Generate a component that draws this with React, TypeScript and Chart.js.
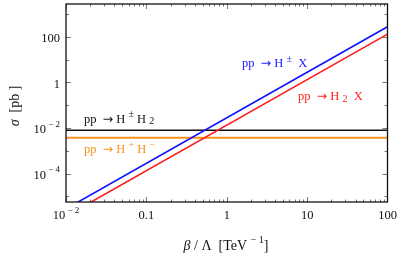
import React, { useEffect, useRef } from "react";
import { Chart, registerables } from "chart.js";
Chart.register(...registerables);

// Axis ranges (log-log)
const xMin = 0.01;
const xMax = 100;
const yMin = 5.6e-6;
const yMax = 2800;

// Series (β/Λ in TeV^-1, σ in pb)
const xEnds = [0.01, 100];
const blueValues = [2.8e-6, 280]; // pp → H± X
const redValues = [1.33e-6, 133]; // pp → H2 X
const blackValues = [0.0079, 0.0079]; // pp → H± H2
const orangeValues = [0.00375, 0.00375]; // pp → H+ H−

// Tick labels: [base, superscript]
const xTickValues = [0.01, 0.1, 1, 10, 100];
const xTickLabels = [["10", "− 2"], ["0.1", ""], ["1", ""], ["10", ""], ["100", ""]];
const yTickValues = [100, 1, 0.01, 0.0001];
const yTickLabels = [["100", ""], ["1", ""], ["10", "− 2"], ["10", "− 4"]];

const SERIF = '"Liberation Serif", "Times New Roman", serif';
const SANS = '"DejaVu Sans", sans-serif';

type Seg = { t: string; sup?: boolean; sub?: boolean; italic?: boolean; sans?: boolean };

function drawRich(
  ctx: CanvasRenderingContext2D,
  segs: Seg[],
  x: number,
  y: number,
  align: "left" | "right" | "center",
  size: number,
  supSize: number,
  rise: number,
  color: string
) {
  const fontFor = (s: Seg) =>
    `${s.italic ? "italic " : ""}${s.sup || s.sub ? supSize : size}px ${s.sans ? SANS : SERIF}`;
  const widths = segs.map((s) => {
    ctx.font = fontFor(s);
    return ctx.measureText(s.t).width;
  });
  const total = widths.reduce((a, b) => a + b, 0);
  let sx = align === "left" ? x : align === "right" ? x - total : x - total / 2;
  ctx.fillStyle = color;
  ctx.textAlign = "left";
  ctx.textBaseline = "middle";
  segs.forEach((s, i) => {
    ctx.font = fontFor(s);
    ctx.fillText(s.t, sx, s.sup ? y - rise : s.sub ? y + 2 : y);
    sx += widths[i];
  });
}

const framePlugin = {
  id: "frameDecor",
  afterDatasetsDraw(chart: any) {
    const ctx: CanvasRenderingContext2D = chart.ctx;
    const { left, right, top, bottom } = chart.chartArea;
    const xs = chart.scales.x;
    const ys = chart.scales.y;
    ctx.save();
    // ticks
    ctx.strokeStyle = "#777";
    ctx.lineWidth = 1;
    ctx.beginPath();
    for (let e = -2; e <= 1; e++) {
      for (let m = 1; m <= 9; m++) {
        const v = m * Math.pow(10, e);
        const px = Math.round(xs.getPixelForValue(v)) + 0.5;
        const len = m === 1 ? 5 : 2.5;
        ctx.moveTo(px, bottom);
        ctx.lineTo(px, bottom - len);
        ctx.moveTo(px, top);
        ctx.lineTo(px, top + len);
      }
    }
    for (let e = -5; e <= 3; e++) {
      const v = Math.pow(10, e);
      const py = Math.round(ys.getPixelForValue(v)) + 0.5;
      const len = e % 2 === 0 ? 5 : 3;
      ctx.moveTo(left, py);
      ctx.lineTo(left + len, py);
      ctx.moveTo(right, py);
      ctx.lineTo(right - len, py);
    }
    ctx.stroke();
    // frame
    ctx.strokeStyle = "#111";
    ctx.lineWidth = 1.3;
    ctx.strokeRect(left, top, right - left, bottom - top);

    // tick labels
    xTickValues.forEach((v, i) => {
      const [b, s] = xTickLabels[i];
      const segs: Seg[] = [{ t: b }];
      if (s) segs.push({ t: " " + s, sup: true });
      drawRich(ctx, segs, xs.getPixelForValue(v), 216, "center", 12.5, 9, 5.5, "#111");
    });
    yTickValues.forEach((v, i) => {
      const [b, s] = yTickLabels[i];
      const segs: Seg[] = [{ t: b }];
      if (s) segs.push({ t: " " + s, sup: true });
      drawRich(ctx, segs, 60, ys.getPixelForValue(v) + 2, "right", 12.5, 9, 5.5, "#111");
    });

    // axis titles
    drawRich(
      ctx,
      [{ t: "β", italic: true }, { t: " / Λ  [TeV " }, { t: "− 1", sup: true }, { t: "]" }],
      226,
      246,
      "center",
      14,
      10,
      6,
      "#111"
    );
    ctx.save();
    ctx.translate(15, 106);
    ctx.rotate(-Math.PI / 2);
    drawRich(ctx, [{ t: "σ", italic: true }, { t: "  [pb ]" }], 0, 0, "center", 14, 10, 6, "#111");
    ctx.restore();

    // series labels
    const arrow: Seg = { t: "→", sans: true };
    drawRich(ctx, [{ t: "pp  " }, arrow, { t: " H " }, { t: "±", sup: true }, { t: "  X" }], 242, 64, "left", 12.5, 10, 5, "#1a1aff");
    drawRich(ctx, [{ t: "pp  " }, arrow, { t: " H " }, { t: "2", sub: true }, { t: "  X" }], 298, 97, "left", 12.5, 10, 5, "#ff2020");
    drawRich(ctx, [{ t: "pp  " }, arrow, { t: " H " }, { t: "±", sup: true }, { t: " H " }, { t: "2", sub: true }], 84, 119.5, "left", 12.5, 10, 5, "#111");
    drawRich(ctx, [{ t: "pp  " }, arrow, { t: " H " }, { t: "+", sup: true }, { t: " H " }, { t: "−", sup: true }], 84, 150, "left", 12.5, 10, 5, "#f7941d");
    ctx.restore();
  },
};

function pts(vals: number[]) {
  return xEnds.map((x, i) => ({ x, y: vals[i] }));
}

export default function App() {
  const ref = useRef<HTMLCanvasElement | null>(null);
  useEffect(() => {
    if (!ref.current) return;
    const chart = new Chart(ref.current, {
      type: "line",
      data: {
        datasets: [
          { data: pts(blueValues), borderColor: "#1010ff", borderWidth: 1.6, pointRadius: 0 },
          { data: pts(redValues), borderColor: "#ff1a1a", borderWidth: 1.6, pointRadius: 0 },
          { data: pts(blackValues), borderColor: "#111", borderWidth: 1.5, pointRadius: 0 },
          { data: pts(orangeValues), borderColor: "#f7941d", borderWidth: 2, pointRadius: 0 },
        ],
      },
      options: {
        animation: false,
        responsive: false,
        events: [],
        layout: { padding: { left: 66, right: 13.5, top: 4, bottom: 57 } },
        plugins: { legend: { display: false }, tooltip: { enabled: false } },
        scales: {
          x: { type: "logarithmic", min: xMin, max: xMax, display: false },
          y: { type: "logarithmic", min: yMin, max: yMax, display: false },
        },
      },
      plugins: [framePlugin],
    });
    return () => chart.destroy();
  }, []);
  return (
    <div style={{ position: "fixed", left: 0, top: 0, width: 401, height: 259, background: "#fff" }}>
      <canvas ref={ref} width={401} height={259} style={{ width: 401, height: 259, display: "block" }} />
    </div>
  );
}
